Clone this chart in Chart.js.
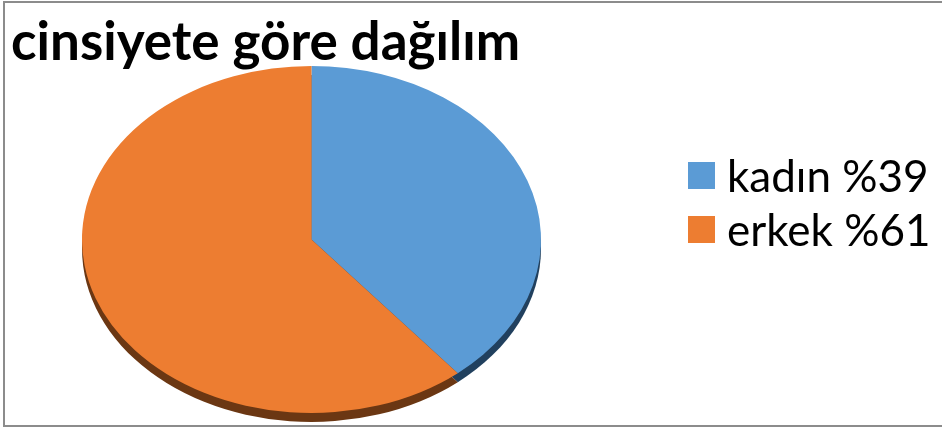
<!DOCTYPE html>
<html>
<head>
<meta charset="utf-8">
<script src="https://cdn.jsdelivr.net/npm/chart.js@4.4.1/dist/chart.umd.min.js"></script>
<style>
  html, body { margin: 0; padding: 0; background: #fff; overflow: hidden; }
  body { width: 942px; height: 428px; position: relative; }
  .frame { position: absolute; left: 3px; top: 1px; width: 960px; height: 422px; border: 2px solid #8c8c8c; }
  #pie { position: absolute; left: 0; top: 0; }
  #legend { position: absolute; left: 688px; top: 148px; font-family: Lato, sans-serif; font-size: 44px; color: #000; }
  #legend .item { display: flex; align-items: center; height: 54px; line-height: 54px; white-space: nowrap; }
  #legend .swatch { display: inline-block; width: 27px; height: 27px; margin-right: 12px; }
</style>
</head>
<body>
<div class="frame"></div>
<canvas id="pie" width="942" height="428"></canvas>
<div id="legend"></div>
<script>
// data
const labels = ["kadın", "erkek"];
const shares = [39, 61];
const colors = ["#5b9bd5", "#ed7d31"];
const sideColors = ["#21405e", "#6b3713"];

// pie is drawn as a tilted disc: stretch sideways, add a darker rim below
const tiltedPie = {
  id: "tiltedPie",
  beforeDatasetsDraw(chart, args, opts) {
    const { ctx, chartArea } = chart;
    const cx = (chartArea.left + chartArea.right) / 2;
    ctx.save();
    ctx.translate(cx, 0);
    ctx.scale(opts.stretch, 1);
    ctx.translate(-cx, 0);
    chart.getDatasetMeta(0).data.forEach((arc, i) => {
      const p = arc.getProps(["x", "y", "startAngle", "endAngle", "outerRadius"], true);
      ctx.beginPath();
      ctx.moveTo(p.x, p.y + opts.depth);
      ctx.arc(p.x, p.y + opts.depth, p.outerRadius, p.startAngle, p.endAngle);
      ctx.closePath();
      ctx.fillStyle = opts.sideColors[i];
      ctx.fill();
    });
  },
  afterDatasetsDraw(chart) {
    chart.ctx.restore();
  }
};

// legend as html, built from the chart's own legend items
const htmlLegend = {
  id: "htmlLegend",
  afterUpdate(chart) {
    const box = document.getElementById("legend");
    box.innerHTML = "";
    chart.options.plugins.legend.labels.generateLabels(chart).forEach(item => {
      const row = document.createElement("div");
      row.className = "item";
      const sw = document.createElement("span");
      sw.className = "swatch";
      sw.style.background = item.fillStyle;
      const txt = document.createElement("span");
      txt.textContent = `${item.text} %${shares[item.index]}`;
      row.append(sw, txt);
      box.appendChild(row);
    });
  }
};

new Chart(document.getElementById("pie"), {
  type: "pie",
  data: {
    labels: labels,
    datasets: [{
      data: shares,
      backgroundColor: colors,
      borderWidth: 0
    }]
  },
  options: {
    responsive: false,
    animation: false,
    layout: { padding: { left: 11, right: 330, top: 0, bottom: 15 } },
    plugins: {
      legend: { display: false },
      tooltip: { enabled: false },
      title: {
        display: true,
        text: "cinsiyete göre dağılım",
        align: "start",
        color: "#000",
        font: { family: "Lato", weight: "bold", size: 53, lineHeight: 0.85 },
        padding: { top: 20.5, bottom: 0.5 }
      },
      tiltedPie: { stretch: 1.323, depth: 9, sideColors: sideColors }
    }
  },
  plugins: [tiltedPie, htmlLegend]
});
</script>
</body>
</html>
